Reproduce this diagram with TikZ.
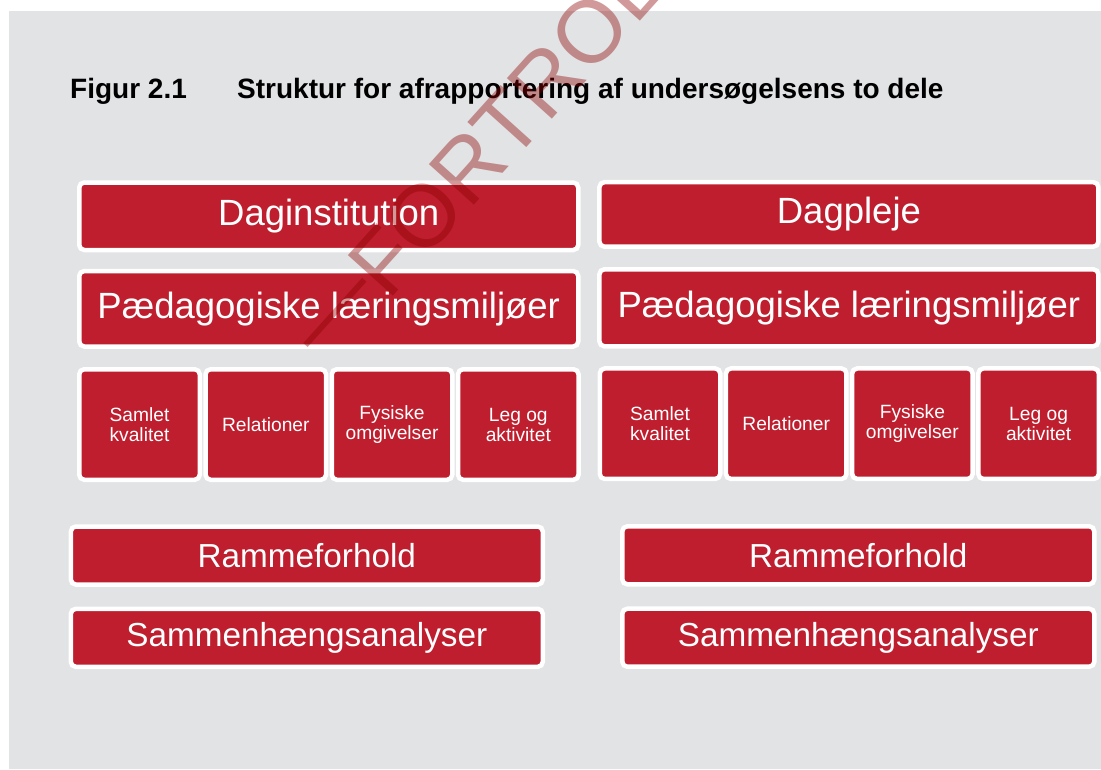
\documentclass[tikz,border=0pt]{standalone}
\usepackage{fontspec}
\setmainfont{Liberation Sans}
\definecolor{boxred}{RGB}{190,30,45}
\definecolor{bggray}{RGB}{226,227,229}
\definecolor{markred}{RGB}{140,0,0}

\begin{document}
\begin{tikzpicture}[x=1pt,y=-1pt,
    box/.style={draw=white,line width=4.5pt,fill=boxred,rounded corners=5pt,
        text=white,inner sep=0pt,align=center},
    big/.style={box,minimum width=499pt,font=\fontsize{36.5}{40}\selectfont},
    small/.style={box,minimum width=120.5pt,minimum height=110.5pt,
        font=\fontsize{19.2}{20}\selectfont},
    low/.style={box,minimum width=472pt,minimum height=58pt,
        font=\fontsize{33.3}{36}\selectfont},
    heading/.style={anchor=base west,inner sep=0pt,
        font=\fontsize{28}{32}\selectfont\bfseries}]

        \useasboundingbox (0,0) rectangle (1101,769);
        \fill[white] (0,0) rectangle (1101,769);
        \fill[bggray] (9,11) rectangle (1101,769);

        \node[heading] (fig) at (70,98) {Figur 2.1};
        \node[heading] (title) at (237,98) {Struktur for afrapportering af undersøgelsens to dele};

        \node[big,minimum height=67.5pt] (dagi) at (328.75,216.25) {Daginstitution};
        \node[big,minimum height=75.5pt] (paedi) at (328.75,308.75) {Pædagogiske læringsmiljøer};
        \node[small] (samli) at (139.5,424.5) {Samlet\\kvalitet};
        \node[small] (reli) at (265.8,424.5) {Relationer};
        \node[small] (fysi) at (392,424.5) {Fysiske\\omgivelser};
        \node[small] (legi) at (518.3,424.5) {Leg og\\aktivitet};
        \node[low] (rammei) at (306.8,555.5) {Rammeforhold};
        \node[low] (sammi) at (306.8,637.8) {Sammenhængsanalyser};

        \node[big,minimum height=64.5pt] (dagp) at (848.9,214.4) {Dagpleje};
        \node[big,minimum height=77pt] (paedp) at (848.9,307.8) {Pædagogiske læringsmiljøer};
        \node[small] (samlp) at (660,423.7) {Samlet\\kvalitet};
        \node[small] (relp) at (786.2,423.7) {Relationer};
        \node[small] (fysp) at (912.4,423.7) {Fysiske\\omgivelser};
        \node[small] (legp) at (1038.6,423.7) {Leg og\\aktivitet};
        \node[low] (rammep) at (858.3,555.3) {Rammeforhold};
        \node[low] (sammp) at (858.3,637.7) {Sammenhængsanalyser};

        \begin{scope}
        \clip (0,0) rectangle (1101,769);
        \node[rotate=48,anchor=base west,inner sep=0pt,text=markred,text opacity=0.4,
            font=\fontsize{88}{90}\selectfont] (mark) at (329,367) {\raisebox{0.1em}{—}FORTROLIGT};
        \end{scope}

\end{tikzpicture}
\end{document}
